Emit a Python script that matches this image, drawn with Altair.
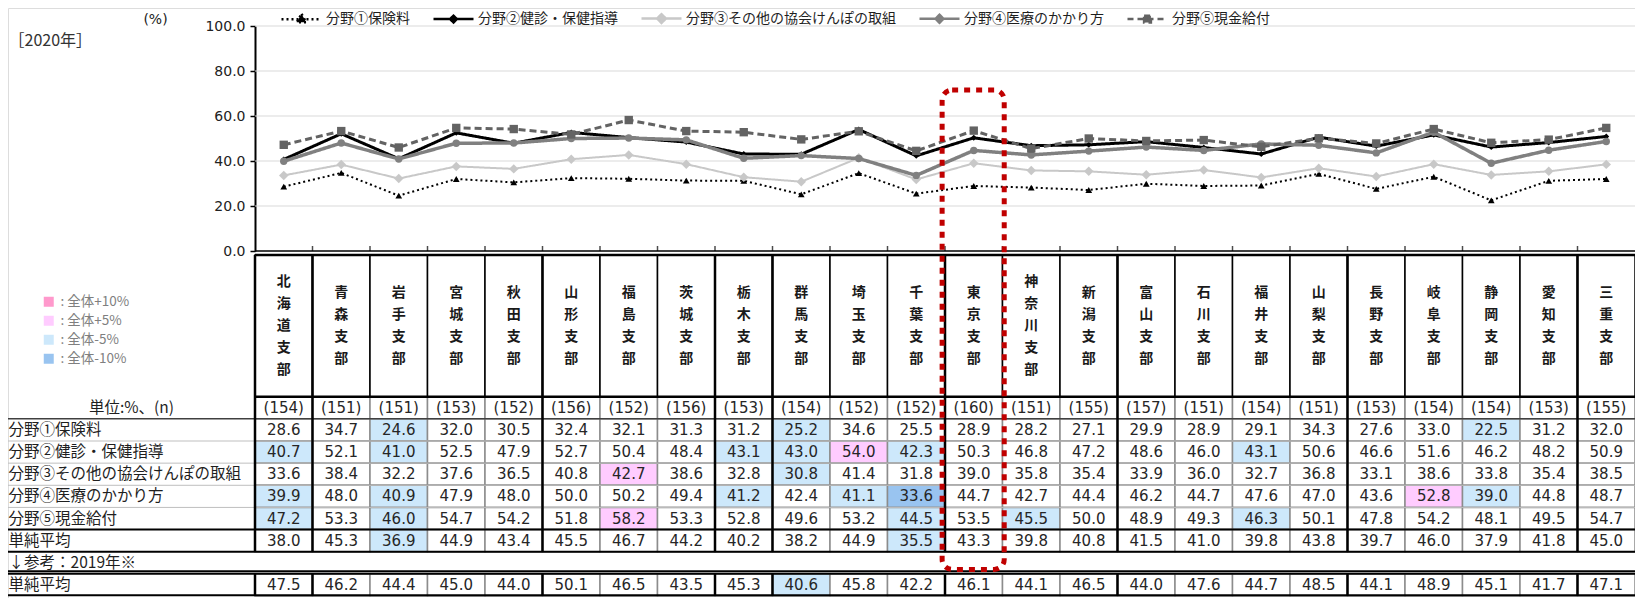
import altair as alt
import pandas as pd

# ---------------- data ----------------
branches = ["北海道支部", "青森支部", "岩手支部", "宮城支部", "秋田支部", "山形支部", "福島支部", "茨城支部",
            "栃木支部", "群馬支部", "埼玉支部", "千葉支部", "東京支部", "神奈川支部", "新潟支部", "富山支部",
            "石川支部", "福井支部", "山梨支部", "長野支部", "岐阜支部", "静岡支部", "愛知支部", "三重支部"]
n_counts = [154, 151, 151, 153, 152, 156, 152, 156, 153, 154, 152, 152, 160, 151, 155, 157, 151, 154,
            151, 153, 154, 154, 153, 155]
series_names = ["分野①保険料", "分野②健診・保健指導", "分野③その他の協会けんぽの取組",
                "分野④医療のかかり方", "分野⑤現金給付"]
field1 = [28.6, 34.7, 24.6, 32.0, 30.5, 32.4, 32.1, 31.3, 31.2, 25.2, 34.6, 25.5, 28.9, 28.2, 27.1, 29.9,
          28.9, 29.1, 34.3, 27.6, 33.0, 22.5, 31.2, 32.0]
field2 = [40.7, 52.1, 41.0, 52.5, 47.9, 52.7, 50.4, 48.4, 43.1, 43.0, 54.0, 42.3, 50.3, 46.8, 47.2, 48.6,
          46.0, 43.1, 50.6, 46.6, 51.6, 46.2, 48.2, 50.9]
field3 = [33.6, 38.4, 32.2, 37.6, 36.5, 40.8, 42.7, 38.6, 32.8, 30.8, 41.4, 31.8, 39.0, 35.8, 35.4, 33.9,
          36.0, 32.7, 36.8, 33.1, 38.6, 33.8, 35.4, 38.5]
field4 = [39.9, 48.0, 40.9, 47.9, 48.0, 50.0, 50.2, 49.4, 41.2, 42.4, 41.1, 33.6, 44.7, 42.7, 44.4, 46.2,
          44.7, 47.6, 47.0, 43.6, 52.8, 39.0, 44.8, 48.7]
field5 = [47.2, 53.3, 46.0, 54.7, 54.2, 51.8, 58.2, 53.3, 52.8, 49.6, 53.2, 44.5, 53.5, 45.5, 50.0, 48.9,
          49.3, 46.3, 50.1, 47.8, 54.2, 48.1, 49.5, 54.7]
avg_2020 = [38.0, 45.3, 36.9, 44.9, 43.4, 45.5, 46.7, 44.2, 40.2, 38.2, 44.9, 35.5, 43.3, 39.8, 40.8, 41.5,
            41.0, 39.8, 43.8, 39.7, 46.0, 37.9, 41.8, 45.0]
avg_2019 = [47.5, 46.2, 44.4, 45.0, 44.0, 50.1, 46.5, 43.5, 45.3, 40.6, 45.8, 42.2, 46.1, 44.1, 46.5, 44.0,
            47.6, 44.7, 48.5, 44.1, 48.9, 45.1, 41.7, 47.1]

# highlight codes: 0 none, 1 全体-5%, 2 全体-10%, 3 全体+5%, 4 全体+10%
hl_names = ["なし", "全体-5%", "全体-10%", "全体+5%", "全体+10%"]
hl_1 = [0, 0, 1, 0, 0, 0, 0, 0, 0, 1, 0, 0, 0, 0, 0, 0, 0, 0, 0, 0, 0, 1, 0, 0]
hl_2 = [1, 0, 1, 0, 0, 0, 0, 0, 1, 1, 3, 1, 0, 0, 0, 0, 0, 1, 0, 0, 0, 0, 0, 0]
hl_3 = [0, 0, 0, 0, 0, 0, 3, 0, 0, 1, 0, 0, 0, 0, 0, 0, 0, 0, 0, 0, 0, 0, 0, 0]
hl_4 = [1, 0, 1, 0, 0, 0, 0, 0, 1, 0, 1, 2, 0, 0, 0, 0, 0, 0, 0, 0, 3, 1, 0, 0]
hl_5 = [1, 0, 1, 0, 0, 0, 3, 0, 0, 0, 0, 1, 0, 1, 0, 0, 0, 1, 0, 0, 0, 0, 0, 0]
hl_avg20 = [0, 0, 1, 0, 0, 0, 0, 0, 0, 0, 0, 1, 0, 0, 0, 0, 0, 0, 0, 0, 0, 0, 0, 0]
hl_avg19 = [0, 0, 0, 0, 0, 0, 0, 0, 0, 1, 0, 0, 0, 0, 0, 0, 0, 0, 0, 0, 0, 0, 0, 0]

y_ticks = [0, 20, 40, 60, 80, 100]
grid_values = [20, 40, 60, 80, 100]
group_starts = ["北海道支部", "青森支部", "山形支部", "栃木支部", "群馬支部", "東京支部", "富山支部", "長野支部", "三重支部"]
highlight_branch = "東京支部"

# ---------------- layout ----------------
W, H = 1627, 590
COL = 57.5
NB = len(branches)
L = 247 / COL                 # label area width in column units
HDR = 6.4                     # header height in row units
TROWS = HDR + 9
HDR_LH = 22                   # line height of the vertical branch names

xs = alt.Scale(domain=[-L, NB], range=[0, W], nice=False, zero=False)
ys_line = alt.Scale(domain=[0, 100], range=[243, 18], nice=False, zero=False)
ys_tab = alt.Scale(domain=[0, TROWS], range=[247, 588], nice=False, zero=False)

JP = "Noto Sans CJK JP"
NUM = "DejaVu Sans"


def X(f):
    return alt.X(f, type="quantitative", scale=xs, axis=None)


def YL(f, axis=None):
    return alt.Y(f, type="quantitative", scale=ys_line, axis=axis)


def YT(f):
    return alt.Y(f, type="quantitative", scale=ys_tab, axis=None)


# ---------------- tables ----------------
line_rows = []
for name, vals in zip(series_names, [field1, field2, field3, field4, field5]):
    for i, v in enumerate(vals):
        line_rows.append(dict(series=name, xc=i + 0.5, v=v))
line_df = pd.DataFrame(line_rows)

table_rows = [
    (field1, hl_1, HDR + 1), (field2, hl_2, HDR + 2), (field3, hl_3, HDR + 3),
    (field4, hl_4, HDR + 4), (field5, hl_5, HDR + 5), (avg_2020, hl_avg20, HDR + 6),
    (avg_2019, hl_avg19, HDR + 8),
]
cells = []
for vals, hls, top in table_rows:
    for i, (v, h) in enumerate(zip(vals, hls)):
        cells.append(dict(x0=i, x1=i + 1, xc=i + 0.5, y0=top, y1=top + 1, yc=top + 0.5, v=v, hl=hl_names[h]))
cell_df = pd.DataFrame(cells)

hdr_df = pd.DataFrame([dict(x0=i, x1=i + 1, xc=i + 0.5, y0=0, y1=HDR, yc=HDR / 2,
                            txt="\n".join(b), nchar=len(b))
                       for i, b in enumerate(branches)])
n_df = pd.DataFrame([dict(x0=i, x1=i + 1, xc=i + 0.5, y0=HDR, y1=HDR + 1, yc=HDR + 0.5, txt=f"({n})")
                     for i, n in enumerate(n_counts)])

label_texts = series_names + ["単純平均", "↓参考：2019年※", "単純平均"]
lab_df = pd.DataFrame([dict(xl=-L + 0.01, yc=HDR + 1.5 + k, txt=t) for k, t in enumerate(label_texts)])
unit_df = pd.DataFrame([dict(xl=-L / 2, yc=HDR + 0.5, txt="単位:%、(n)")])
title_df = pd.DataFrame([dict(xl=-L + 0.01, g=93.3, txt="［2020年］")])

grid_df = pd.DataFrame(dict(g=grid_values, x0=0, x1=NB))
base_df = pd.DataFrame(dict(g=[0], x0=[0], x1=[NB]))
tick_df = pd.DataFrame(dict(bx=list(range(1, NB)), g=0))

vthick = []
for b in group_starts:
    i = branches.index(b)
    vthick.append(dict(bx=i, y0=0, y1=HDR + 7))
    vthick.append(dict(bx=i, y0=HDR + 8, y1=TROWS))
vthick_df = pd.DataFrame(vthick)

hr_table_black = pd.DataFrame(dict(y=[0, HDR], x0=0, x1=NB))
hr_full_black = pd.DataFrame(dict(y=[HDR + 6, HDR + 7, HDR + 7.88, HDR + 8, TROWS - 0.03], x0=-L, x1=NB))
hr_full_dark = pd.DataFrame(dict(y=[HDR + 1], x0=-L, x1=NB))
hr_full_gray = pd.DataFrame(dict(y=[HDR + 2, HDR + 3, HDR + 4, HDR + 5], x0=-L, x1=NB))

ti = branches.index(highlight_branch)
red_df = pd.DataFrame([dict(x0=ti - 0.05, x1=ti + 1.03, y0=-7.45, y1=HDR + 7.8)])

# ---------------- layers ----------------
y_axis = alt.Axis(orient="left", offset=-247, values=y_ticks, format=".1f", grid=False,
                  domain=True, domainColor="black", domainWidth=2,
                  ticks=True, tickColor="black", tickSize=5, tickWidth=1.5,
                  labelFont=NUM, labelFontSize=14, labelColor="#222222", labelPadding=5,
                  title="(%)", titleAngle=0, titleX=-100, titleY=11, titleFont=NUM,
                  titleFontSize=14, titleFontWeight="normal", titleColor="#222222",
                  titleAlign="center", titleBaseline="middle")

layers = []
layers.append(alt.Chart(grid_df).mark_rule(color="#d9d9d9", strokeWidth=1.2)
              .encode(x=X("x0"), x2="x1", y=YL("g", axis=y_axis)))
layers.append(alt.Chart(base_df).mark_rule(color="black", strokeWidth=1.5)
              .encode(x=X("x0"), x2="x1", y=YL("g")))
layers.append(alt.Chart(tick_df).mark_tick(orient="vertical", color="black", size=5, thickness=1.5, yOffset=-2.5)
              .encode(x=X("bx"), y=YL("g")))

styles = [
    dict(color="black", dash=[2, 3], width=2, shape="triangle-up", size=45),
    dict(color="black", dash=[1, 0], width=3, shape="diamond", size=35),
    dict(color="#c8c8c8", dash=[1, 0], width=2, shape="diamond", size=90),
    dict(color="#808080", dash=[1, 0], width=3.5, shape="circle", size=55),
    dict(color="#636363", dash=[7, 4], width=3, shape="square", size=70),
]
for name, st in zip(series_names, styles):
    layers.append(
        alt.Chart(line_df).transform_filter(alt.datum.series == name)
        .mark_line(color=st["color"], strokeDash=st["dash"], strokeWidth=st["width"],
                   point=alt.OverlayMarkDef(shape=st["shape"], filled=True, size=st["size"],
                                            color=st["color"], opacity=1))
        .encode(x=X("xc"), y=YL("v"))
    )

layers.append(alt.Chart(title_df).mark_text(align="left", baseline="middle", font=JP, fontSize=16,
                                            color="#333333")
              .encode(x=X("xl"), y=YL("g"), text="txt:N"))

# table
layers.append(alt.Chart(hdr_df).mark_rect(fill="white", stroke="black", strokeWidth=1.5)
              .encode(x=X("x0"), x2="x1", y=YT("y0"), y2="y1"))
for nc in sorted(set(len(b) for b in branches)):
    layers.append(alt.Chart(hdr_df).transform_filter(alt.datum.nchar == nc)
                  .mark_text(lineBreak="\n", font=JP, fontSize=14, fontWeight="bold",
                             lineHeight=HDR_LH, color="#1a1a1a", baseline="middle",
                             dy=-(nc - 1) * HDR_LH / 2)
                  .encode(x=X("xc"), y=YT("yc"), text="txt:N"))
layers.append(alt.Chart(n_df).mark_rect(fill="white", stroke="#8c8c8c", strokeWidth=1.5)
              .encode(x=X("x0"), x2="x1", y=YT("y0"), y2="y1"))
layers.append(alt.Chart(n_df).mark_text(font=NUM, fontSize=15, color="#262626", baseline="middle")
              .encode(x=X("xc"), y=YT("yc"), text="txt:N"))

hl_legend = alt.Legend(title=None, orient="none", legendX=34, legendY=287, direction="vertical",
                       values=["全体+10%", "全体+5%", "全体-5%", "全体-10%"],
                       symbolType="square", symbolSize=100, symbolStrokeWidth=0, symbolOpacity=1,
                       labelExpr="':  ' + datum.label", labelFont=JP, labelFontSize=13.5,
                       labelColor="#7f7f7f", rowPadding=4, labelOffset=5)
layers.append(alt.Chart(cell_df).mark_rect(stroke="#8c8c8c", strokeWidth=1.5, opacity=1)
              .encode(x=X("x0"), x2="x1", y=YT("y0"), y2="y1",
                      color=alt.Color("hl:N", scale=alt.Scale(domain=hl_names,
                                                              range=["#ffffff", "#cde8fb", "#99c4f0",
                                                                     "#ffccff", "#ff99cc"]),
                                      legend=hl_legend)))
layers.append(alt.Chart(cell_df).mark_text(font=NUM, fontSize=15, color="#262626", baseline="middle")
              .encode(x=X("xc"), y=YT("yc"), text=alt.Text("v:Q", format=".1f")))

layers.append(alt.Chart(hr_full_gray).mark_rule(color="#bfbfbf", strokeWidth=1)
              .encode(x=X("x0"), x2="x1", y=YT("y")))
layers.append(alt.Chart(hr_full_dark).mark_rule(color="#404040", strokeWidth=1.5)
              .encode(x=X("x0"), x2="x1", y=YT("y")))
layers.append(alt.Chart(hr_full_black).mark_rule(color="black", strokeWidth=2)
              .encode(x=X("x0"), x2="x1", y=YT("y")))
layers.append(alt.Chart(hr_table_black).mark_rule(color="black", strokeWidth=2.5)
              .encode(x=X("x0"), x2="x1", y=YT("y")))
layers.append(alt.Chart(vthick_df).mark_rule(color="black", strokeWidth=2.5)
              .encode(x=X("bx"), y=YT("y0"), y2="y1"))

layers.append(alt.Chart(lab_df).mark_text(align="left", baseline="middle", font=JP, fontSize=15.5,
                                          color="#1f1f1f")
              .encode(x=X("xl"), y=YT("yc"), text="txt:N"))
layers.append(alt.Chart(unit_df).mark_text(align="center", baseline="middle", font=JP, fontSize=15.5,
                                           color="#1f1f1f")
              .encode(x=X("xl"), y=YT("yc"), text="txt:N"))

layers.append(alt.Chart(red_df).mark_rect(fill="transparent", stroke="#c00000", strokeWidth=5,
                                          strokeDash=[6, 6], cornerRadius=10)
              .encode(x=X("x0"), x2="x1", y=YT("y0"), y2="y1"))

# series legend (custom line + marker symbols)
LN = "M-1,0L1,0"
paths = [LN + "M0,-0.26L0.24,0.16L-0.24,0.16Z",
         LN + "M0,-0.17L0.17,0L0,0.17L-0.17,0Z",
         LN + "M0,-0.22L0.22,0L0,0.22L-0.22,0Z",
         LN + "M0,-0.2L0.2,0L0,0.2L-0.2,0Z",
         LN + "M-0.17,-0.17L0.17,-0.17L0.17,0.17L-0.17,0.17Z"]
leg_colors = [s["color"] for s in styles]
leg_dash = [[2, 3], [1, 0], [1, 0], [1, 0], [6, 4]]
ser_legend = alt.Legend(title=None, orient="none", legendX=272, legendY=-11, direction="horizontal",
                        symbolSize=1600, symbolStrokeWidth=2.5, symbolOpacity=1,
                        labelFont=JP, labelFontSize=14, labelColor="#1f1f1f", labelOffset=3,
                        columnPadding=18, labelLimit=400)
leg_df = pd.DataFrame(dict(series=series_names))
layers.append(alt.Chart(leg_df).transform_filter("false").mark_point(filled=True, opacity=1)
              .encode(fill=alt.Fill("series:N", scale=alt.Scale(domain=series_names, range=leg_colors),
                                    legend=ser_legend),
                      stroke=alt.Stroke("series:N", scale=alt.Scale(domain=series_names, range=leg_colors),
                                        legend=ser_legend),
                      shape=alt.Shape("series:N", scale=alt.Scale(domain=series_names, range=paths),
                                      legend=ser_legend),
                      strokeDash=alt.StrokeDash("series:N", scale=alt.Scale(domain=series_names, range=leg_dash),
                                                legend=ser_legend)))

chart = (alt.layer(*layers)
         .resolve_scale(y="independent")
         .properties(width=W, height=H, autosize=alt.AutoSizeParams(type="none"),
                     padding={"left": 0, "top": 0, "right": 0, "bottom": 0})
         .configure_view(strokeWidth=0)
         .configure(font=JP))

chart.save("out.html", embed_options={"renderer": "svg", "actions": False})
